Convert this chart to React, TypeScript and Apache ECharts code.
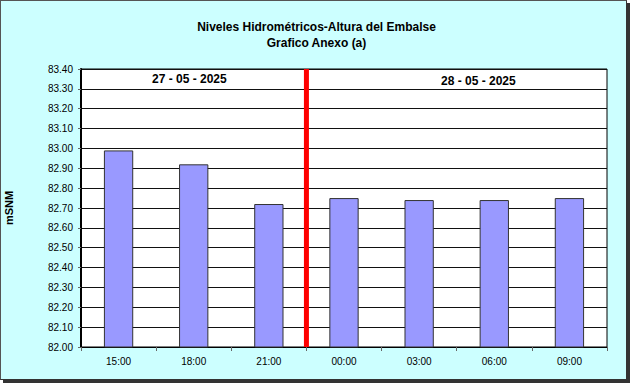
import React, { useEffect, useRef } from "react";
import * as echarts from "echarts";

const day1Hours = ["15:00", "18:00", "21:00"];
const day2Hours = ["00:00", "03:00", "06:00", "09:00"];
const categories = [...day1Hours, ...day2Hours];
const levels = [82.99, 82.92, 82.72, 82.75, 82.74, 82.74, 82.75];
const dayLabels = ["27 - 05 - 2025", "28 - 05 - 2025"];
const titleLines = ["Niveles Hidrométricos-Altura del Embalse", "Grafico Anexo (a)"];
const yMin = 82.0;
const yMax = 83.4;
const yStep = 0.1;

const FONT = "'Liberation Sans', Arial, sans-serif";

export default function App() {
  const ref = useRef<HTMLDivElement>(null);
  useEffect(() => {
    if (!ref.current) return;
    const chart = echarts.init(ref.current, null, { renderer: "svg" });
    const divider = day1Hours.length;
    chart.setOption({
      animation: false,
      backgroundColor: "transparent",
      title: {
        text: titleLines.join("\n"),
        left: "center",
        top: 14,
        textStyle: { fontFamily: FONT, fontSize: 12, fontWeight: "bold", color: "#000", lineHeight: 16 },
      },
      grid: {
        left: 81, right: 26, top: 69, bottom: 39,
        outerBoundsMode: "none",
        containLabel: false,
        show: true, backgroundColor: "#fff", borderColor: "#000", borderWidth: 1,
      },
      xAxis: [
        {
          type: "category",
          data: categories,
          boundaryGap: true,
          axisLine: { lineStyle: { color: "#000", width: 1 } },
          axisTick: { show: true, length: 4, lineStyle: { color: "#666" } },
          axisLabel: { fontFamily: FONT, fontSize: 10, color: "#000", margin: 9 },
        },
        { type: "value", min: 0, max: categories.length, show: false },
      ],
      yAxis: {
        type: "value",
        min: yMin,
        max: yMax,
        interval: yStep,
        name: "mSNM",
        nameLocation: "middle",
        nameGap: 67,
        nameTextStyle: { fontFamily: FONT, fontSize: 11, fontWeight: "bold", color: "#000" },
        axisLine: { show: true, lineStyle: { color: "#000", width: 2 } },
        axisTick: { show: true, length: 3, lineStyle: { color: "#666" } },
        axisLabel: { fontFamily: FONT, fontSize: 10, color: "#000", margin: 8, formatter: (v: number) => v.toFixed(2) },
        splitLine: { show: true, lineStyle: { color: "#111", width: 1 } },
      },
      series: [
        {
          type: "bar",
          data: levels,
          barWidth: "39%",
          itemStyle: { color: "#9999FF", borderColor: "#333", borderWidth: 1 },
        },
        {
          type: "line",
          xAxisIndex: 1,
          data: [[divider, yMin], [divider, yMax]],
          symbol: "none",
          lineStyle: { color: "#FF0000", width: 5 },
          z: 5,
        },
      ],
      graphic: [
        {
          type: "text", left: 152, top: 73,
          style: { text: dayLabels[0], font: `bold 12px ${FONT}`, fill: "#000" },
        },
        {
          type: "text", left: 441, top: 75,
          style: { text: dayLabels[1], font: `bold 12px ${FONT}`, fill: "#000" },
        },
      ],
    });
    return () => chart.dispose();
  }, []);
  return (
    <div
      style={{
        position: "fixed", left: 0, top: 0, width: 633, height: 386,
        background: "#fff",
      }}
    >
      <div
        style={{
          position: "absolute", left: 0, top: 0, width: 627, height: 380,
          background: "#CCFFFF", borderTop: "1px solid #555", borderLeft: "1px solid #555",
          boxShadow: "3px 3px 0 #333", borderRight: "1px solid #333", borderBottom: "1px solid #333",
          boxSizing: "border-box",
        }}
      />
      <div ref={ref} style={{ position: "absolute", left: 0, top: 0, width: 633, height: 386 }} />
    </div>
  );
}
